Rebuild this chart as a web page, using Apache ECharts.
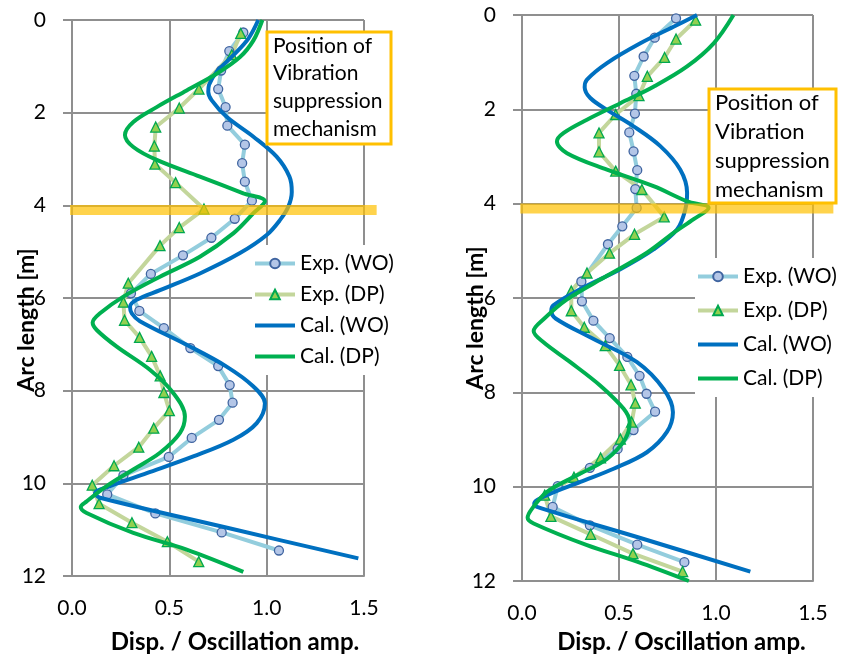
<!DOCTYPE html>
<html>
<head>
<meta charset="utf-8">
<script src="https://cdn.jsdelivr.net/npm/echarts@6/dist/echarts.min.js"></script>
<style>
html,body{margin:0;padding:0;background:#fff;}
#chart{width:843px;height:659px;}
</style>
</head>
<body>
<div id="chart"></div>
<script>
// ---------- data (x = Disp./Oscillation amp., y = Arc length [m]) ----------
const seriesNames = ['Exp. (WO)', 'Exp. (DP)', 'Cal. (WO)', 'Cal. (DP)'];
const xTickValues = [0, 0.5, 1.0, 1.5];
const yTickValues = [0, 2, 4, 6, 8, 10, 12];
const annotationText = 'Position of\nVibration\nsuppression\nmechanism';
const bandArcLength = 4.1;
const bandXLeft = [-0.01, 1.565];
const bandXRight = [-0.009, 1.605];

// Left panel
const leftExpWO = [[0.880,0.27],[0.808,0.67],[0.766,1.09],[0.751,1.49],[0.789,1.88],[0.798,2.28],[0.888,2.69],[0.874,3.09],[0.888,3.49],[0.924,3.90],[0.836,4.29],[0.716,4.70],[0.570,5.08],[0.405,5.48],[0.303,5.90],[0.346,6.28],[0.472,6.65],[0.608,7.08],[0.751,7.47],[0.810,7.88],[0.825,8.26],[0.755,8.63],[0.615,9.02],[0.497,9.43],[0.264,9.83],[0.181,10.24],[0.428,10.65],[0.769,11.06],[1.063,11.45]];
const leftExpDP = [[0.867,0.29],[0.821,0.75],[0.652,1.49],[0.551,1.90],[0.430,2.31],[0.423,2.72],[0.426,3.11],[0.532,3.51],[0.678,4.08],[0.551,4.48],[0.452,4.87],[0.289,5.68],[0.264,6.09],[0.270,6.48],[0.347,6.85],[0.409,7.26],[0.453,7.68],[0.472,8.04],[0.500,8.43],[0.420,8.81],[0.343,9.22],[0.216,9.62],[0.104,10.04],[0.139,10.44],[0.308,10.85],[0.490,11.26],[0.651,11.69]];
const leftCalWO = [[0.957,0],[0.906,0.40],[0.829,0.76],[0.743,1.12],[0.704,1.40],[0.700,1.55],[0.717,1.73],[0.794,2.09],[0.932,2.52],[1.051,2.95],[1.117,3.38],[1.129,3.71],[1.111,4.03],[1.068,4.32],[1.000,4.64],[0.863,5.03],[0.657,5.47],[0.452,5.83],[0.332,6.04],[0.298,6.19],[0.307,6.33],[0.349,6.50],[0.589,7.01],[0.794,7.48],[0.932,7.91],[0.991,8.27],[0.949,8.70],[0.829,9.06],[0.623,9.42],[0.384,9.78],[0.195,10.06],[0.118,10.22],[0.144,10.31],[0.808,10.97],[1.471,11.62]];
const leftCalDP = [[0.978,0],[0.932,0.44],[0.863,0.80],[0.743,1.16],[0.589,1.52],[0.435,1.88],[0.315,2.20],[0.272,2.48],[0.315,2.74],[0.435,3.02],[0.657,3.38],[0.880,3.74],[0.991,3.91],[0.932,4.17],[0.830,4.60],[0.657,5.11],[0.452,5.54],[0.264,5.97],[0.144,6.33],[0.106,6.53],[0.127,6.69],[0.230,7.05],[0.400,7.55],[0.520,8.05],[0.580,8.56],[0.555,8.91],[0.452,9.34],[0.315,9.70],[0.178,10.06],[0.075,10.39],[0.045,10.51],[0.075,10.64],[0.315,11.07],[0.589,11.43],[0.880,11.91]];

// Right panel
const rightExpWO = [[0.794,0.07],[0.684,0.48],[0.627,0.88],[0.579,1.29],[0.589,1.67],[0.582,2.09],[0.553,2.49],[0.575,2.89],[0.594,3.29],[0.584,3.69],[0.591,4.09],[0.517,4.48],[0.443,4.86],[0.306,5.65],[0.309,6.07],[0.368,6.48],[0.452,6.85],[0.543,7.25],[0.606,7.65],[0.642,8.03],[0.686,8.41],[0.575,8.80],[0.493,9.20],[0.350,9.60],[0.184,9.99],[0.158,10.43],[0.350,10.82],[0.594,11.23],[0.837,11.60]];
const rightExpDP = [[0.895,0.11],[0.794,0.51],[0.735,0.90],[0.646,1.30],[0.603,1.71],[0.483,2.11],[0.397,2.50],[0.397,2.90],[0.483,3.31],[0.618,3.70],[0.733,4.28],[0.580,4.65],[0.451,5.05],[0.335,5.47],[0.254,5.85],[0.254,6.27],[0.321,6.62],[0.429,7.01],[0.503,7.43],[0.562,7.84],[0.584,8.23],[0.565,8.63],[0.507,8.99],[0.405,9.39],[0.268,9.80],[0.117,10.18],[0.149,10.63],[0.354,11.01],[0.572,11.42],[0.828,11.80]];
const rightCalWO = [[0.902,0],[0.781,0.25],[0.610,0.60],[0.438,1.02],[0.335,1.37],[0.323,1.53],[0.352,1.76],[0.438,2.01],[0.575,2.36],[0.713,2.78],[0.816,3.28],[0.851,3.77],[0.842,4.12],[0.799,4.55],[0.678,4.97],[0.507,5.39],[0.301,5.81],[0.163,6.15],[0.151,6.27],[0.175,6.44],[0.369,6.87],[0.593,7.36],[0.730,7.93],[0.778,8.42],[0.747,8.84],[0.644,9.27],[0.472,9.62],[0.301,9.90],[0.129,10.18],[0.063,10.36],[0.077,10.43],[0.627,11.11],[1.177,11.80]];
const rightCalDP = [[1.090,0],[0.988,0.60],[0.851,1.09],[0.678,1.52],[0.507,1.87],[0.335,2.22],[0.215,2.50],[0.180,2.68],[0.232,2.93],[0.438,3.28],[0.678,3.63],[0.851,3.95],[0.962,4.09],[0.885,4.33],[0.781,4.62],[0.644,5.04],[0.438,5.53],[0.232,6.03],[0.111,6.45],[0.060,6.70],[0.111,6.94],[0.249,7.36],[0.404,7.86],[0.524,8.35],[0.555,8.63],[0.532,8.99],[0.438,9.41],[0.283,9.76],[0.129,10.11],[0.051,10.47],[0.029,10.66],[0.060,10.78],[0.335,11.24],[0.593,11.59],[0.860,12.0]];

// ---------- styles ----------
const FONT = 'Lato';
const GRID_COLOR = '#8f8f8f';
const C_EXP_WO_LINE = '#93CDDD';
const C_EXP_DP_LINE = '#C3D69B';
const C_CAL_WO = '#0070C0';
const C_CAL_DP = '#00B050';
const BAND_COLOR = 'rgba(255,192,0,0.7)';

const grids = [
  {left: 72, top: 20, width: 292, height: 557},
  {left: 522, top: 15, width: 291, height: 568}
];

function xAxisFor(i, gap, padLeft) {
  return {
    gridIndex: i, type: 'value', min: xTickValues[0], max: xTickValues[xTickValues.length-1],
    interval: xTickValues[1] - xTickValues[0],
    name: 'Disp. / Oscillation amp.', nameLocation: 'middle', nameGap: gap, nameMoveOverlap: false,
    nameTextStyle: {fontFamily: FONT, fontWeight: 'bold', fontSize: 24, color: '#000', padding: [0,0,0,padLeft]},
    axisLine: {show: true, onZero: false, lineStyle: {color: GRID_COLOR, width: 2}},
    axisTick: {show: false},
    axisLabel: {margin: 22, fontFamily: FONT, fontSize: 21, color: '#000', formatter: v => v.toFixed(1)},
    splitLine: {show: true, lineStyle: {color: GRID_COLOR, width: 2}}
  };
}
function yAxisFor(i, gap, padRight) {
  return {
    gridIndex: i, type: 'value', inverse: true, min: yTickValues[0], max: yTickValues[yTickValues.length-1],
    interval: yTickValues[1] - yTickValues[0],
    name: 'Arc length [m]', nameLocation: 'middle', nameRotate: 90, nameGap: gap, nameMoveOverlap: false,
    nameTextStyle: {fontFamily: FONT, fontWeight: 'bold', fontSize: 23, color: '#000', padding: [0,padRight,0,0]},
    axisLine: {show: true, onZero: false, lineStyle: {color: GRID_COLOR, width: 2}},
    axisTick: {show: true, inside: false, length: 9, lineStyle: {color: GRID_COLOR, width: 2}},
    axisLabel: {margin: 26, fontFamily: FONT, fontSize: 21, color: '#000'},
    splitLine: {show: true, lineStyle: {color: GRID_COLOR, width: 2}}
  };
}

function panelSeries(i, expWO, expDP, calWO, calDP) {
  return [
    {name: seriesNames[0], type: 'line', xAxisIndex: i, yAxisIndex: i, data: expWO,
     symbol: 'circle', symbolSize: 9, showAllSymbol: true,
     lineStyle: {color: C_EXP_WO_LINE, width: 4},
     itemStyle: {color: '#B4C6E7', borderColor: '#3F64A0', borderWidth: 1.3}, z: 3},
    {name: seriesNames[1], type: 'line', xAxisIndex: i, yAxisIndex: i, data: expDP,
     symbol: 'triangle', symbolSize: 10, showAllSymbol: true,
     lineStyle: {color: C_EXP_DP_LINE, width: 4},
     itemStyle: {color: '#92D050', borderColor: '#00A84F', borderWidth: 1.3}, z: 3},
    {name: seriesNames[2], type: 'line', xAxisIndex: i, yAxisIndex: i, data: calWO,
     symbol: 'none', smooth: 0.35, lineStyle: {color: C_CAL_WO, width: 4}, itemStyle: {color: C_CAL_WO}, z: 4},
    {name: seriesNames[3], type: 'line', xAxisIndex: i, yAxisIndex: i, data: calDP,
     symbol: 'none', smooth: 0.35, lineStyle: {color: C_CAL_DP, width: 4}, itemStyle: {color: C_CAL_DP}, z: 4}
  ];
}

function legendFor(left, top, gap, fs, pad) {
  return {
    orient: 'vertical', left: left, top: top,
    data: seriesNames.map((n, k) => k < 2 ? {name: n} : {name: n, itemStyle: {opacity: 0}}),
    itemWidth: 40, itemHeight: 12, itemGap: gap, padding: pad,
    backgroundColor: '#fff', selectedMode: false,
    lineStyle: {width: 4},
    textStyle: {fontFamily: FONT, fontSize: fs, color: '#000'}
  };
}

const chart = echarts.init(document.getElementById('chart'), null, {renderer: 'canvas'});
chart.setOption({
  animation: false,
  backgroundColor: '#fff',
  grid: grids,
  xAxis: [xAxisFor(0, 54, 34), xAxisFor(1, 49, 28)],
  yAxis: [yAxisFor(0, 34, 44), yAxisFor(1, 35, 40)],
  legend: [
    legendFor(252, 245, 10, 21, [8, 6, 8, 1]),
    legendFor(695, 258, 13, 21, [8, 6, 8, 1])
  ],
  series: [].concat(
    panelSeries(0, leftExpWO, leftExpDP, leftCalWO, leftCalDP),
    panelSeries(1, rightExpWO, rightExpDP, rightCalWO, rightCalDP)
  )
});

// Band marking the vibration suppression position, placed through the axes' own scales
function bandGraphic(gridIndex, xs) {
  const p0 = chart.convertToPixel({gridIndex: gridIndex}, [xs[0], bandArcLength]);
  const p1 = chart.convertToPixel({gridIndex: gridIndex}, [xs[1], bandArcLength]);
  return {type: 'line', z: 50, silent: true,
    shape: {x1: p0[0], y1: p0[1], x2: p1[0], y2: p1[1]},
    style: {stroke: BAND_COLOR, lineWidth: 10, lineCap: 'butt'}};
}

chart.setOption({
  graphic: [
    bandGraphic(0, bandXLeft),
    bandGraphic(1, bandXRight),
    {type: 'rect', z: 100, shape: {x: 267, y: 32, width: 124, height: 112},
     style: {fill: '#fff', stroke: '#FFC000', lineWidth: 3}},
    {type: 'text', z: 101, x: 273, y: 32,
     style: {text: annotationText, font: '21px Lato', fill: '#000', lineHeight: 27.8, verticalAlign: 'top', textVerticalAlign: 'top'}},
    {type: 'rect', z: 100, shape: {x: 709, y: 89, width: 127, height: 114},
     style: {fill: '#fff', stroke: '#FFC000', lineWidth: 3}},
    {type: 'text', z: 101, x: 715, y: 89,
     style: {text: annotationText, font: '22px Lato', fill: '#000', lineHeight: 28.7, verticalAlign: 'top', textVerticalAlign: 'top'}}
  ]
});
</script>
</body>
</html>
